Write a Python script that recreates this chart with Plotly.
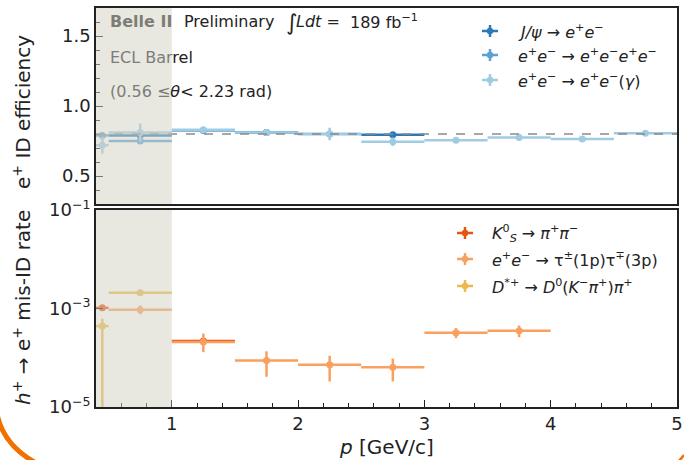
import plotly.graph_objects as go

# ---------------- data ----------------
# top panel: e+ ID efficiency
p_jpsi = [0.75, 1.75, 2.75]
dp_jpsi = [0.25, 0.25, 0.25]
eff_jpsi = [0.79, 0.81, 0.795]
err_jpsi = [0.01, 0.01, 0.01]

p_eeee = [0.45, 0.75, 1.25, 1.75, 2.25]
dp_eeee = [0.05, 0.25, 0.25, 0.25, 0.25]
eff_eeee = [0.79, 0.75, 0.825, 0.81, 0.80]
err_eeee = [0.01, 0.012, 0.01, 0.01, 0.01]

p_eeg = [0.45, 0.75, 1.25, 1.75, 2.25, 2.75, 3.25, 3.75, 4.25, 4.75]
dp_eeg = [0.05, 0.25, 0.25, 0.25, 0.25, 0.25, 0.25, 0.25, 0.25, 0.25]
eff_eeg = [0.72, 0.81, 0.83, 0.81, 0.80, 0.745, 0.755, 0.775, 0.765, 0.805]
err_eeg = [0.06, 0.065, 0.02, 0.02, 0.045, 0.03, 0.01, 0.01, 0.012, 0.01]

eff_ref = 0.8

# bottom panel: h+ -> e+ mis-ID rate
p_ks = [0.45, 1.25]
dp_ks = [0.05, 0.25]
rate_ks = [1.03e-3, 2.2e-4]
up_ks = [1.0e-4, 2.0e-5]
dn_ks = [1.0e-4, 2.0e-5]

p_tau = [0.75, 1.25, 1.75, 2.25, 2.75, 3.25, 3.75]
dp_tau = [0.25, 0.25, 0.25, 0.25, 0.25, 0.25, 0.25]
rate_tau = [9.4e-4, 2.1e-4, 8.8e-5, 7.2e-5, 6.4e-5, 3.2e-4, 3.55e-4]
up_tau = [2.1e-4, 1.0e-4, 4.7e-5, 3.8e-5, 3.2e-5, 0.8e-4, 0.95e-4]
dn_tau = [1.8e-4, 0.8e-4, 4.7e-5, 3.9e-5, 3.1e-5, 0.7e-4, 0.95e-4]

p_dst = [0.45, 0.75]
dp_dst = [0.05, 0.25]
rate_dst = [4.4e-4, 2.09e-3]
up_dst = [1.8e-4, 1.0e-4]
dn_dst = [4.3999e-4, 1.0e-4]

log_ticks = [1e-5, 1e-3, 1e-1]
log_ticktext = ["10<sup>\u22125</sup>", "10<sup>\u22123</sup>", "10<sup>\u22121</sup>"]

# ---------------- style ----------------
C_JPSI = "#2a7ab9"
C_EEEE = "#5aa2d3"
C_EEG = "#9fcbe3"
C_KS = "#e6550d"
C_TAU = "#faa05f"
C_DST = "#ebb94d"
FONT = "DejaVu Sans"
W, H = 684, 460
ML, MR, MT, MB = 96, 7, 8, 53
PW, PH = W - ML - MR, H - MT - MB
TOP_PX = (8, 204)
BOT_PX = (210, 407)


def px(x):
    return (x - ML) / PW


def py(y):
    return (H - MB - y) / PH


fig = go.Figure()


def add_series(x, dx, y, ey, color, yaxis, xaxis, ey_minus=None):
    err_y = dict(type="data", array=ey, color=color, thickness=2.5, width=0)
    if ey_minus is not None:
        err_y["symmetric"] = False
        err_y["arrayminus"] = ey_minus
    fig.add_trace(go.Scatter(
        x=x, y=y, mode="markers", xaxis=xaxis, yaxis=yaxis,
        marker=dict(color=color, size=7),
        error_x=dict(type="data", array=dx, color=color, thickness=2.5, width=0),
        error_y=err_y, showlegend=False, hoverinfo="skip"))


add_series(p_jpsi, dp_jpsi, eff_jpsi, err_jpsi, C_JPSI, "y", "x")
add_series(p_eeee, dp_eeee, eff_eeee, err_eeee, C_EEEE, "y", "x")
add_series(p_eeg, dp_eeg, eff_eeg, err_eeg, C_EEG, "y", "x")

add_series(p_ks, dp_ks, rate_ks, up_ks, C_KS, "y2", "x2", dn_ks)
add_series(p_tau, dp_tau, rate_tau, up_tau, C_TAU, "y2", "x2", dn_tau)
add_series(p_dst, dp_dst, rate_dst, up_dst, C_DST, "y2", "x2", dn_dst)

AX = dict(showline=True, linecolor="#222222", linewidth=1.6, mirror=True,
          showgrid=False, zeroline=False, automargin=False,
          tickfont=dict(family=FONT, size=18, color="#222222"))

dom_top = [py(TOP_PX[1]), py(TOP_PX[0])]
dom_bot = [py(BOT_PX[1]), py(BOT_PX[0])]

fig.update_layout(
    template="none",
    width=W, height=H, margin=dict(l=ML, r=MR, t=MT, b=MB, pad=0, autoexpand=False),
    paper_bgcolor="white", plot_bgcolor="white", showlegend=False,
    font=dict(family=FONT, color="#222222"),
    xaxis=dict(AX, range=[0.4, 5], domain=[0, 1], anchor="y",
               showticklabels=False, ticks=""),
    yaxis=dict(AX, range=[0.3, 1.7], domain=dom_top, anchor="x",
               tickvals=[0.5, 1.0, 1.5], ticktext=["0.5", "1.0", "1.5"],
               ticks="inside", ticklen=7, tickwidth=1.2, tickcolor="#222222",
               minor=dict(dtick=0.1, tick0=0, ticks="inside", ticklen=4,
                          tickwidth=1, tickcolor="#222222")),
    xaxis2=dict(AX, range=[0.4, 5], domain=[0, 1], anchor="y2",
                tickvals=[1, 2, 3, 4, 5], ticks="inside", ticklen=7,
                tickwidth=1.2, tickcolor="#222222",
                minor=dict(dtick=0.2, tick0=0, ticks="inside", ticklen=4,
                           tickwidth=1, tickcolor="#222222")),
    yaxis2=dict(AX, type="log", range=[-5, -1], domain=dom_bot, anchor="x2",
                tickvals=log_ticks, ticktext=log_ticktext,
                ticks="inside", ticklen=7, tickwidth=1.2, tickcolor="#222222"),
)

shapes = []
# reference efficiency line
shapes.append(dict(type="line", xref="x", yref="y", x0=0.4, x1=5,
                   y0=eff_ref, y1=eff_ref, layer="above",
                   line=dict(color="#8a8a8a", width=1.3, dash="dash")))
# shaded low-momentum region
for yr in ["y domain", "y2 domain"]:
    shapes.append(dict(type="rect", xref="x", yref=yr, x0=0.4, x1=1.0,
                       y0=0, y1=1, layer="above", line=dict(width=0),
                       fillcolor="rgb(210,210,195)", opacity=0.5))


def legend_cross(xc, yc, color):
    shapes.append(dict(type="line", xref="paper", yref="paper",
                       x0=px(xc - 8), x1=px(xc + 8), y0=py(yc), y1=py(yc),
                       line=dict(color=color, width=2.5)))
    shapes.append(dict(type="line", xref="paper", yref="paper",
                       x0=px(xc), x1=px(xc), y0=py(yc - 6), y1=py(yc + 6),
                       line=dict(color=color, width=2.5)))
    shapes.append(dict(type="circle", xref="paper", yref="paper",
                       x0=px(xc - 3.2), x1=px(xc + 3.2),
                       y0=py(yc + 3.2), y1=py(yc - 3.2),
                       fillcolor=color, line=dict(width=0)))


annotations = []


def text(x, y, s, size=16, color="#222222", xanchor="left", angle=0):
    annotations.append(dict(xref="paper", yref="paper", x=px(x), y=py(y),
                            text=s, showarrow=False, xanchor=xanchor,
                            yanchor="middle", textangle=angle,
                            font=dict(family=FONT, size=size, color=color)))


top_leg = [("<i>J/\u03c8</i> \u2192 <i>e</i><sup>+</sup><i>e</i><sup>\u2212</sup>", C_JPSI),
           ("<i>e</i><sup>+</sup><i>e</i><sup>\u2212</sup> \u2192 <i>e</i><sup>+</sup><i>e</i><sup>\u2212</sup><i>e</i><sup>+</sup><i>e</i><sup>\u2212</sup>", C_EEEE),
           ("<i>e</i><sup>+</sup><i>e</i><sup>\u2212</sup> \u2192 <i>e</i><sup>+</sup><i>e</i><sup>\u2212</sup>(<i>\u03b3</i>)", C_EEG)]
for (lbl, col), yy in zip(top_leg, [31, 55, 80]):
    legend_cross(490, yy, col)
    text(516, yy, lbl, size=16)

bot_leg = [("<i>K</i><sup>0</sup><sub><i>S</i></sub> \u2192 <i>\u03c0</i><sup>+</sup><i>\u03c0</i><sup>\u2212</sup>", C_KS),
           ("<i>e</i><sup>+</sup><i>e</i><sup>\u2212</sup> \u2192 \u03c4<sup>\u00b1</sup>(1p)\u03c4<sup>\u2213</sup>(3p)", C_TAU),
           ("<i>D</i><sup>*+</sup> \u2192 <i>D</i><sup>0</sup>(<i>K</i><sup>\u2212</sup><i>\u03c0</i><sup>+</sup>)<i>\u03c0</i><sup>+</sup>", C_DST)]
for (lbl, col), yy in zip(bot_leg, [233, 259, 286]):
    legend_cross(465, yy, col)
    text(490, yy, lbl, size=16)

GRAY = "#7d7d78"
text(108, 21, "<b>Belle II</b>", size=16, color=GRAY)
text(182, 21, "Preliminary", size=16)
text(284, 22, "\u222b", size=22)
text(294, 21, "<i>Ldt</i> =", size=16)
text(348, 21, "189 fb<sup>\u22121</sup>", size=16)
text(108, 57, "<span style='color:%s'>ECL Bar</span>rel" % GRAY, size=16)
text(108, 91, "<span style='color:%s'>(0.56 \u2264</span><i>\u03b8</i>< 2.23 rad)" % GRAY, size=16)

# axis titles
text(22, 112, "e<sup>+</sup> ID efficiency", size=20, xanchor="center", angle=-90)
text(22, 308, "<i>h</i><sup>+</sup> \u2192 e<sup>+</sup> mis-ID rate", size=20,
     xanchor="center", angle=-90)
text(386, 447, "<i>p</i> [GeV/c]", size=20, xanchor="center")

# decorative orange arc at the lower-left corner (slide background)
shapes.append(dict(type="path", xref="paper", yref="paper",
                   path="M %f,%f Q %f,%f %f,%f" % (px(-3), py(414), px(3.5), py(446), px(38), py(464)),
                   line=dict(color="#f07000", width=5)))
shapes.append(dict(type="path", xref="paper", yref="paper",
                   path="M %f,%f L %f,%f" % (px(679), py(461), px(684), py(455)),
                   line=dict(color="#f07000", width=2.5)))

fig.update_layout(shapes=shapes, annotations=annotations)
fig.write_html("out.html")
